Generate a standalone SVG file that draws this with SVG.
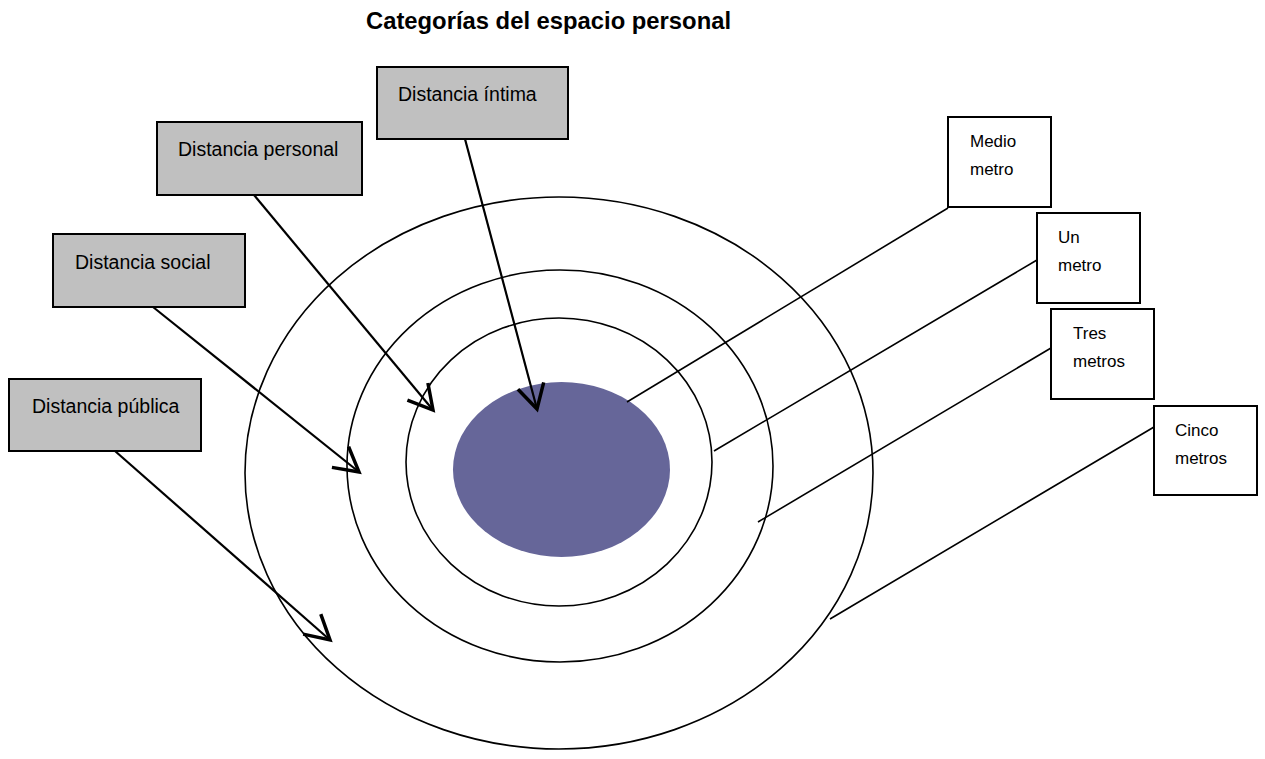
<svg xmlns="http://www.w3.org/2000/svg" width="1265" height="759" viewBox="0 0 1265 759">
<style>
  .title { font-family: "Liberation Sans", Arial, sans-serif; font-weight: bold; font-size: 23.8px; fill: #000; }
  .lbl { font-family: "Liberation Sans", Arial, sans-serif; font-size: 19.5px; fill: #000; }
  .sm { font-family: "Liberation Sans", Arial, sans-serif; font-size: 17px; fill: #000; }
  .gray { fill: #C0C0C0; stroke: #000; stroke-width: 2; }
  .white { fill: #FFFFFF; stroke: #000; stroke-width: 2; }
  .ring { fill: none; stroke: #000; stroke-width: 1.6; }
  .arrow { fill: none; stroke: #000; stroke-width: 2.2; marker-end: url(#vhead); }
  .line { fill: none; stroke: #000; stroke-width: 1.6; }
</style>
<defs>
  <marker id="vhead" markerUnits="userSpaceOnUse" markerWidth="40" markerHeight="40" refX="0" refY="0" orient="auto" overflow="visible" viewBox="-25 -15 30 30">
    <path d="M-18,-10 L0,0 L-18,10" fill="none" stroke="#000" stroke-width="2.6" stroke-linejoin="miter"/>
  </marker>
</defs>
<rect width="1265" height="759" fill="#FFFFFF"/>
<text class="title" x="366" y="29">Categorías del espacio personal</text>

<g id="rings">
  <ellipse class="ring" cx="559" cy="473" rx="314" ry="276"/>
  <ellipse class="ring" cx="560" cy="466" rx="213" ry="196"/>
  <ellipse class="ring" cx="559" cy="462" rx="153" ry="144"/>
  <ellipse cx="561.5" cy="469.5" rx="108.5" ry="87.5" fill="#666699"/>
</g>

<g id="connectors">
  <line class="arrow" x1="465" y1="139" x2="537" y2="409"/>
  <line class="arrow" x1="254" y1="195" x2="433" y2="410"/>
  <line class="arrow" x1="153" y1="307" x2="359" y2="472"/>
  <line class="arrow" x1="115" y1="451" x2="330" y2="640"/>
  <line class="line" x1="948" y1="208" x2="627" y2="402"/>
  <line class="line" x1="1037" y1="260" x2="714" y2="451"/>
  <line class="line" x1="1051" y1="348" x2="758" y2="522"/>
  <line class="line" x1="1154" y1="427" x2="830" y2="619"/>
</g>

<g id="intima">
  <rect class="gray" x="377" y="67" width="191" height="72"/>
  <text class="lbl" x="398" y="101">Distancia íntima</text>
</g>
<g id="personal">
  <rect class="gray" x="157" y="122" width="205" height="73"/>
  <text class="lbl" x="178" y="156">Distancia personal</text>
</g>
<g id="social">
  <rect class="gray" x="53" y="234" width="192" height="73"/>
  <text class="lbl" x="75" y="269">Distancia social</text>
</g>
<g id="publica">
  <rect class="gray" x="9" y="379" width="192" height="72"/>
  <text class="lbl" x="32" y="413">Distancia pública</text>
</g>

<g id="medio">
  <rect class="white" x="948" y="117" width="103" height="90"/>
  <text class="sm" x="970" y="147">Medio</text>
  <text class="sm" x="970" y="175">metro</text>
</g>
<g id="un">
  <rect class="white" x="1037" y="213" width="103" height="90"/>
  <text class="sm" x="1058" y="243">Un</text>
  <text class="sm" x="1058" y="271">metro</text>
</g>
<g id="tres">
  <rect class="white" x="1051" y="309" width="103" height="90"/>
  <text class="sm" x="1073" y="339">Tres</text>
  <text class="sm" x="1073" y="367">metros</text>
</g>
<g id="cinco">
  <rect class="white" x="1154" y="406" width="103" height="89"/>
  <text class="sm" x="1175" y="436">Cinco</text>
  <text class="sm" x="1175" y="464">metros</text>
</g>
</svg>
